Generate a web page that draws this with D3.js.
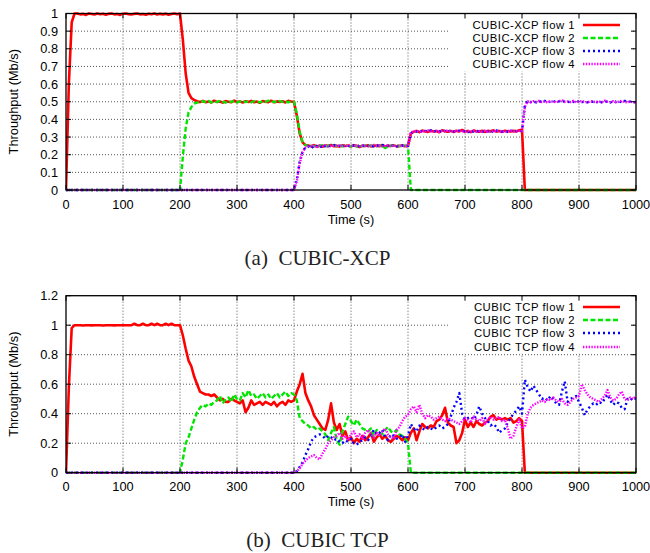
<!DOCTYPE html>
<html><head><meta charset="utf-8">
<script src="https://cdn.jsdelivr.net/npm/d3@7"></script>
<style>body{margin:0;background:#fff}svg{display:block}</style>
</head><body>
<svg id="chart" width="650" height="553"></svg>
<script>
// ---------- DATA (sampled every 5 s, 0..1000 s) ----------
const timeSec = d3.range(0, 1001, 5);

const xcpFlow1 = [0,0.6,0.95,1.0,
1.0,0.995,0.998,0.992,1.0,0.997,0.994,1.0,0.996,0.999,0.993,0.998,1.0,0.995,0.997,0.992,0.999,1.0,0.996,0.994,0.998,1.0,0.995,0.997,0.993,0.999,0.996,1.0,0.994,0.998,0.995,0.999,0.993,0.997,1.0,0.996,
1.0,0.85,0.66,0.55,0.52,0.51,
0.503,0.498,0.505,0.497,0.502,0.496,0.506,0.499,0.501,0.495,0.504,0.5,0.497,0.507,0.498,0.502,0.496,0.503,0.499,0.505,0.497,0.501,0.494,0.504,0.5,0.498,0.506,0.497,0.502,0.499,0.503,0.496,0.505,0.501,
0.5,0.42,0.32,0.27,0.255,
0.252,0.248,0.254,0.247,0.251,0.245,0.253,0.249,0.255,0.248,0.25,0.246,0.253,0.249,0.252,0.247,0.254,0.25,0.244,0.251,0.249,0.253,0.247,0.25,0.252,0.248,0.255,0.246,0.251,0.249,0.253,0.247,0.25,0.252,0.248,
0.25,0.32,
0.33,0.335,0.328,0.337,0.332,0.329,0.336,0.331,0.334,0.327,0.338,0.333,0.33,0.335,0.329,0.336,0.332,0.34,0.331,0.334,0.328,0.337,0.333,0.33,0.336,0.329,0.335,0.332,0.338,0.331,0.334,0.329,0.336,0.333,0.331,0.335,0.332,0.338,
0.342,
0,0,0,0,0,0,0,0,0,0, 0,0,0,0,0,0,0,0,0,0, 0,0,0,0,0,0,0,0,0,0, 0,0,0,0,0,0,0,0,0,0];

const xcpFlow2 = [
0,0,0,0,0,0,0,0,0,0, 0,0,0,0,0,0,0,0,0,0, 0,0,0,0,0,0,0,0,0,0, 0,0,0,0,0,0,0,0,0,0,
0,0.19,0.35,0.44,0.47,0.49,0.495,
0.497,0.503,0.499,0.505,0.496,0.502,0.498,0.506,0.5,0.495,0.503,0.499,0.504,0.497,0.501,0.505,0.498,0.502,0.496,0.504,0.5,0.497,0.503,0.499,0.506,0.498,0.501,0.495,0.504,0.499,0.502,0.497,0.503,
0.5,0.43,0.33,0.27,0.255,
0.249,0.253,0.247,0.251,0.25,0.254,0.246,0.252,0.248,0.255,0.249,0.251,0.247,0.253,0.25,0.248,0.252,0.246,0.254,0.249,0.251,0.247,0.253,0.25,0.248,0.252,0.249,0.238,0.247,0.251,0.25,0.253,0.248,0.25,0.252,
0.25,
0,0,0,0,0,0,0,0,0,0, 0,0,0,0,0,0,0,0,0,0, 0,0,0,0,0,0,0,0,0,0, 0,0,0,0,0,0,0,0,0,0,
0,0,0,0,0,0,0,0,0,0, 0,0,0,0,0,0,0,0,0,0, 0,0,0,0,0,0,0,0,0,0, 0,0,0,0,0,0,0,0,0,0];

const xcpFlow3 = [
0,0,0,0,0,0,0,0,0,0, 0,0,0,0,0,0,0,0,0,0, 0,0,0,0,0,0,0,0,0,0, 0,0,0,0,0,0,0,0,0,0,
0,0,0,0,0,0,0,0,0,0, 0,0,0,0,0,0,0,0,0,0, 0,0,0,0,0,0,0,0,0,0, 0,0,0,0,0,0,0,0,0,0,
0,0.06,0.16,0.22,0.24,
0.248,0.235,0.251,0.249,0.253,0.238,0.25,0.252,0.247,0.254,0.249,0.251,0.246,0.253,0.25,0.248,0.252,0.255,0.247,0.25,0.253,0.249,0.251,0.247,0.252,0.25,0.254,0.248,0.251,0.249,0.253,0.247,0.25,0.252,0.249,
0.25,0.32,
0.334,0.331,0.337,0.329,0.335,0.332,0.338,0.33,0.336,0.333,0.329,0.335,0.331,0.337,0.333,0.33,0.336,0.332,0.334,0.328,0.337,0.331,0.335,0.333,0.329,0.336,0.332,0.334,0.33,0.337,0.333,0.331,0.335,0.329,0.336,0.332,0.334,0.33,
0.335,0.48,
0.505,0.498,0.502,0.496,0.503,0.499,0.505,0.497,0.501,0.504,0.498,0.502,0.506,0.499,0.497,0.503,0.5,0.495,0.504,0.498,0.501,0.497,0.503,0.499,0.502,0.49,0.498,0.503,0.5,0.496,0.504,0.499,0.502,0.497,0.505,0.498,0.501,0.496,0.499];

const xcpFlow4 = [
0,0,0,0,0,0,0,0,0,0, 0,0,0,0,0,0,0,0,0,0, 0,0,0,0,0,0,0,0,0,0, 0,0,0,0,0,0,0,0,0,0,
0,0,0,0,0,0,0,0,0,0, 0,0,0,0,0,0,0,0,0,0, 0,0,0,0,0,0,0,0,0,0, 0,0,0,0,0,0,0,0,0,0,
0,0.05,0.15,0.215,0.24,
0.251,0.247,0.253,0.24,0.252,0.249,0.254,0.246,0.251,0.25,0.253,0.248,0.252,0.247,0.254,0.25,0.249,0.252,0.246,0.253,0.25,0.248,0.251,0.255,0.249,0.252,0.247,0.25,0.253,0.248,0.251,0.249,0.252,0.25,0.248,
0.25,0.325,
0.332,0.336,0.33,0.334,0.328,0.337,0.333,0.331,0.335,0.329,0.336,0.332,0.338,0.33,0.334,0.331,0.337,0.333,0.329,0.335,0.332,0.336,0.33,0.334,0.331,0.337,0.329,0.333,0.336,0.331,0.335,0.332,0.328,0.334,0.337,0.331,0.333,0.335,
0.333,0.47,
0.502,0.497,0.503,0.499,0.505,0.498,0.501,0.496,0.504,0.5,0.497,0.503,0.51,0.499,0.502,0.498,0.505,0.497,0.501,0.503,0.499,0.496,0.504,0.5,0.498,0.502,0.497,0.506,0.5,0.498,0.503,0.496,0.501,0.505,0.499,0.497,0.502,0.495,0.5];

const tcpFlow1 = [0,0.58,0.98,1.0,
1,1,0.998,1,1,0.999,1,1,1,0.998, 1,1,1,0.999,1,1,1,1,1,1, 1.01,1,1,1.01,1,1,1.01,1,1.01,1, 1,1.01,1,1.01,1,1,
1.0,
0.93,0.84,0.76,0.72,0.65,0.60,0.55,0.54,
0.53,0.53,0.52,0.53,0.51,0.49,0.50,0.48,0.48,0.50, 0.49,0.48,0.47,0.49,0.41,0.44,0.49,0.46,0.47,0.48, 0.46,0.48,0.47,0.46,0.48,0.45,0.47,0.48,0.46,0.49, 0.48,
0.49,0.55,0.60,0.67,0.54,0.49,0.45,0.39,0.36,0.33, 0.30,0.29,0.36,0.47,0.34,0.29,0.33,0.25,0.28,0.22, 0.24,0.20,0.23,0.21,0.25,0.22,0.24,0.27,0.21,0.24, 0.26,0.23,0.25,0.22,0.21,0.23,0.25,0.24,0.22,0.24,
0.22,0.27,0.30,0.22,0.28,0.33,0.31,0.30,0.32,0.31, 0.35,0.36,0.39,0.44,0.34,0.32,0.31,0.20,0.22,0.27, 0.36,0.31,0.34,0.31,0.35,0.33,0.32,0.34,0.35,0.38, 0.39,0.36,0.37,0.36,0.37,0.36,0.37,0.34,0.35,0.37, 0.35,
0,0,0,0,0,0,0,0,0,0, 0,0,0,0,0,0,0,0,0,0, 0,0,0,0,0,0,0,0,0,0, 0,0,0,0,0,0,0,0,0,0];

const tcpFlow2 = [
0,0,0,0,0,0,0,0,0,0, 0,0,0,0,0,0,0,0,0,0, 0,0,0,0,0,0,0,0,0,0, 0,0,0,0,0,0,0,0,0,0, 0,
0.09,0.20,0.24,0.30,0.36,0.41,0.44,0.46,0.45,0.47, 0.46,0.48,0.49,0.52,0.47,0.50,0.51,0.48,0.53,0.50, 0.49,0.54,0.51,0.56,0.52,0.53,0.50,0.52,0.54,0.51, 0.53,0.50,0.52,0.54,0.51,0.53,0.55,0.52,0.54,
0.53,0.49,0.37,0.35,0.33,0.32,0.30,0.31,0.29,0.30, 0.28,0.26,0.22,0.27,0.31,0.22,0.19,0.28,0.33,0.38, 0.35,0.32,0.36,0.33,0.30,0.29,0.28,0.30,0.25,0.29, 0.27,0.26,0.29,0.31,0.28,0.27,0.29,0.26,0.25,0.23, 0.20,
0,0,0,0,0,0,0,0,0,0, 0,0,0,0,0,0,0,0,0,0, 0,0,0,0,0,0,0,0,0,0, 0,0,0,0,0,0,0,0,0,0,
0,0,0,0,0,0,0,0,0,0, 0,0,0,0,0,0,0,0,0,0, 0,0,0,0,0,0,0,0,0,0, 0,0,0,0,0,0,0,0,0,0];

const tcpFlow3 = [
0,0,0,0,0,0,0,0,0,0, 0,0,0,0,0,0,0,0,0,0, 0,0,0,0,0,0,0,0,0,0, 0,0,0,0,0,0,0,0,0,0,
0,0,0,0,0,0,0,0,0,0, 0,0,0,0,0,0,0,0,0,0, 0,0,0,0,0,0,0,0,0,0, 0,0,0,0,0,0,0,0,0,0, 0,
0.01,0.04,0.07,0.12,0.16,0.21,0.24,0.25,0.26,0.25, 0.23,0.25,0.24,0.22,0.23,0.21,0.20,0.22,0.21,0.23, 0.20,0.19,0.21,0.22,0.24,0.22,0.25,0.29,0.26,0.27, 0.29,0.24,0.22,0.26,0.25,0.23,0.24,0.26,0.21,
0.25,0.33,0.30,0.28,0.32,0.30,0.29,0.31,0.30,0.29, 0.31,0.32,0.30,0.31,0.33,0.38,0.44,0.48,0.54,0.40, 0.36,0.37,0.38,0.36,0.39,0.45,0.40,0.37,0.35,0.32, 0.33,0.31,0.27,0.29,0.30,0.34,0.37,0.40,0.42,0.45, 0.40,
0.63,0.58,0.55,0.59,0.56,0.53,0.50,0.51,0.49,0.52, 0.50,0.47,0.46,0.55,0.62,0.48,0.50,0.51,0.52,0.48, 0.44,0.39,0.43,0.45,0.47,0.46,0.48,0.47,0.50,0.53, 0.49,0.46,0.48,0.47,0.44,0.43,0.50,0.49,0.51,0.50];

const tcpFlow4 = [
0,0,0,0,0,0,0,0,0,0, 0,0,0,0,0,0,0,0,0,0, 0,0,0,0,0,0,0,0,0,0, 0,0,0,0,0,0,0,0,0,0,
0,0,0,0,0,0,0,0,0,0, 0,0,0,0,0,0,0,0,0,0, 0,0,0,0,0,0,0,0,0,0, 0,0,0,0,0,0,0,0,0,0, 0,
0.01,0.03,0.06,0.08,0.10,0.11,0.12,0.10,0.09,0.13, 0.16,0.20,0.22,0.24,0.25,0.27,0.23,0.25,0.22,0.26, 0.28,0.24,0.26,0.23,0.27,0.29,0.26,0.24,0.27,0.25, 0.28,0.30,0.26,0.24,0.23,0.29,0.31,0.35,0.38,
0.39,0.43,0.45,0.41,0.46,0.40,0.37,0.39,0.38,0.36, 0.37,0.38,0.36,0.35,0.37,0.36,0.35,0.34,0.33,0.35, 0.37,0.36,0.34,0.38,0.36,0.35,0.37,0.33,0.36,0.38, 0.36,0.37,0.38,0.35,0.36,0.30,0.23,0.25,0.31,0.36, 0.30,
0.31,0.40,0.44,0.46,0.47,0.48,0.49,0.48,0.50,0.49, 0.51,0.49,0.48,0.50,0.47,0.46,0.48,0.50,0.51,0.52, 0.60,0.56,0.53,0.51,0.50,0.49,0.48,0.50,0.52,0.56, 0.51,0.49,0.50,0.53,0.55,0.50,0.49,0.51,0.50,0.52];

const xcpLabels = ["CUBIC-XCP flow 1","CUBIC-XCP flow 2","CUBIC-XCP flow 3","CUBIC-XCP flow 4"];
const tcpLabels = ["CUBIC TCP flow 1","CUBIC TCP flow 2","CUBIC TCP flow 3","CUBIC TCP flow 4"];
const xTickValues = [0,100,200,300,400,500,600,700,800,900,1000];
const xcpYTicks = [0,0.1,0.2,0.3,0.4,0.5,0.6,0.7,0.8,0.9,1];
const tcpYTicks = [0,0.2,0.4,0.6,0.8,1,1.2];
const xTitle = "Time (s)";
const yTitle = "Throughput (Mb/s)";
const captionA = "(a)\u00a0\u00a0CUBIC-XCP";
const captionB = "(b)\u00a0\u00a0CUBIC TCP";

// ---------- STYLE ----------
const flowStyles = [
  {color:"#ff0000", dash:null,      width:2.6},
  {color:"#00e600", dash:"5,2.5",   width:2.4},
  {color:"#0000ff", dash:"2,3",     width:2.4},
  {color:"#ff00ff", dash:"1.4,1.4", width:2.4}
];
const SANS = "'Liberation Sans', Arial, Helvetica, sans-serif";
const SERIF = "'Liberation Serif', 'Times New Roman', serif";
const FS = 12.8;
const LEG_FS = 11.3;

const svg = d3.select("#chart");
svg.append("rect").attr("width",650).attr("height",553).attr("fill","#fff");

function panel(cfg){
  const {top, bottom, yMax, yTicks, series, labels, caption, captionY, id} = cfg;
  const left = 66, right = 636;
  const x = d3.scaleLinear().domain([0,1000]).range([left,right]);
  const y = d3.scaleLinear().domain([0,yMax]).range([bottom,top]);
  const g = svg.append("g");

  // grid
  g.append("g").selectAll("line").data(yTicks.filter(v=>v>0 && v<yMax)).join("line")
    .attr("x1",left).attr("x2",right).attr("y1",d=>y(d)).attr("y2",d=>y(d))
    .attr("stroke","#444").attr("stroke-width",0.9).attr("stroke-dasharray","1,2");
  g.append("g").selectAll("line").data(xTickValues.filter(v=>v>0 && v<1000)).join("line")
    .attr("x1",d=>x(d)).attr("x2",d=>x(d)).attr("y1",top).attr("y2",bottom)
    .attr("stroke","#444").attr("stroke-width",0.9).attr("stroke-dasharray","1,2");

  // legend background
  g.append("rect").attr("x",449).attr("y",top+1).attr("width",184).attr("height",57).attr("fill","#fff");

  // clip
  svg.append("clipPath").attr("id","clip"+id).append("rect")
    .attr("x",left).attr("y",top-3).attr("width",right-left).attr("height",bottom-top+6);

  const line = d3.line().x((d,i)=>x(timeSec[i])).y(d=>y(d));
  const lg = g.append("g").attr("clip-path",`url(#clip${id})`);
  series.forEach((s,k)=>{
    const st = flowStyles[k];
    lg.append("path").datum(s).attr("d",line).attr("fill","none")
      .attr("stroke",st.color).attr("stroke-width",st.width)
      .attr("stroke-dasharray",st.dash).attr("stroke-linejoin","round");
  });

  // legend
  labels.forEach((lab,k)=>{
    const ly = Math.round(top + 11.5 + k*13.1);
    const st = flowStyles[k];
    g.append("text").attr("x",575).attr("y",ly+4.2).attr("text-anchor","end")
      .attr("font-family",SANS).attr("font-size",LEG_FS).attr("letter-spacing",0.5)
      .attr("fill","#000").text(lab);
    g.append("line").attr("x1",583).attr("x2",620).attr("y1",ly).attr("y2",ly)
      .attr("stroke",st.color).attr("stroke-width",st.width).attr("stroke-dasharray",st.dash);
  });

  // border
  g.append("rect").attr("x",left).attr("y",top).attr("width",right-left).attr("height",bottom-top)
    .attr("fill","none").attr("stroke","#000").attr("stroke-width",1.3);

  // ticks (mirrored, inward)
  const tl = 5;
  const tk = g.append("g").attr("stroke","#000").attr("stroke-width",1);
  yTicks.forEach(v=>{
    tk.append("line").attr("x1",left).attr("x2",left+tl).attr("y1",y(v)).attr("y2",y(v));
    tk.append("line").attr("x1",right).attr("x2",right-tl).attr("y1",y(v)).attr("y2",y(v));
  });
  xTickValues.forEach(v=>{
    tk.append("line").attr("x1",x(v)).attr("x2",x(v)).attr("y1",bottom).attr("y2",bottom-tl);
    tk.append("line").attr("x1",x(v)).attr("x2",x(v)).attr("y1",top).attr("y2",top+tl);
  });

  // tick labels
  const fmt = d => String(+d.toFixed(1));
  g.append("g").selectAll("text").data(yTicks).join("text")
    .attr("x",left-8).attr("y",d=>y(d)+4.5).attr("text-anchor","end")
    .attr("font-family",SANS).attr("font-size",FS).text(fmt);
  g.append("g").selectAll("text").data(xTickValues).join("text")
    .attr("x",d=>x(d)).attr("y",bottom+18.5).attr("text-anchor","middle")
    .attr("font-family",SANS).attr("font-size",FS).text(d=>d);

  // titles
  g.append("text").attr("x",(left+right)/2).attr("y",bottom+33.5).attr("text-anchor","middle")
    .attr("font-family",SANS).attr("font-size",FS).text(xTitle);
  g.append("text").attr("transform",`translate(17.6,${(top+bottom)/2}) rotate(-90)`)
    .attr("text-anchor","middle").attr("font-family",SANS).attr("font-size",FS).text(yTitle);

  // caption
  g.append("text").attr("x",317.5).attr("y",captionY).attr("text-anchor","middle")
    .attr("font-family",SERIF).attr("font-size",21).attr("fill","#222").text(caption);
}

panel({id:"a", top:13.5, bottom:190, yMax:1, yTicks:xcpYTicks,
  series:[xcpFlow1,xcpFlow2,xcpFlow3,xcpFlow4], labels:xcpLabels, caption:captionA, captionY:265});
panel({id:"b", top:295.7, bottom:472.7, yMax:1.2, yTicks:tcpYTicks,
  series:[tcpFlow1,tcpFlow2,tcpFlow3,tcpFlow4], labels:tcpLabels, caption:captionB, captionY:547});
</script>
</body></html>
